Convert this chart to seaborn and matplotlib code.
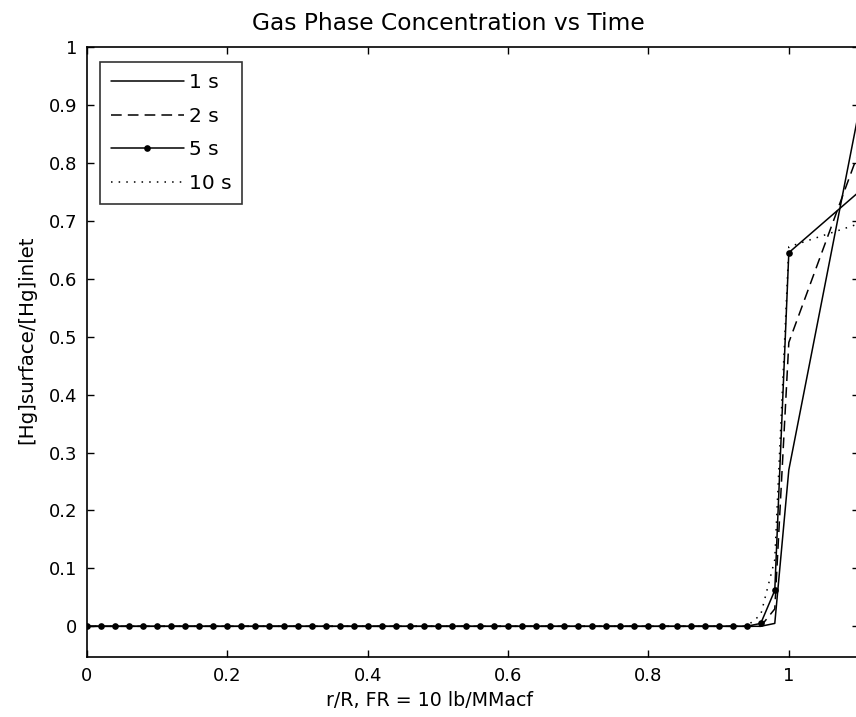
import numpy as np
import pandas as pd
import matplotlib
matplotlib.use("Agg")
import matplotlib.pyplot as plt
import seaborn as sns

# ---- data ----
r_grid = [round(0.02 * i, 2) for i in range(50)] + [1.0, 1.1]   # r/R positions
zeros48 = [0.0] * 48
conc_1s = zeros48 + [0.0, 0.005, 0.27, 0.89]
conc_2s = zeros48 + [0.0, 0.03, 0.49, 0.82]
conc_5s = zeros48 + [0.005, 0.062, 0.645, 0.75]
conc_10s = zeros48 + [0.02, 0.115, 0.655, 0.695]
series_labels = ["1 s", "2 s", "5 s", "10 s"]
xtick_vals = [0, 0.2, 0.4, 0.6, 0.8, 1.0]
xtick_labels = ["0", "0.2", "0.4", "0.6", "0.8", "1"]
ytick_vals = [0, 0.1, 0.2, 0.3, 0.4, 0.5, 0.6, 0.7, 0.8, 0.9, 1.0]
ytick_labels = ["0", "0.1", "0.2", "0.3", "0.4", "0.5", "0.6", "0.7", "0.8", "0.9", "1"]

sns.set_style("ticks")
plt.rcParams['font.family'] = ['DejaVu Sans']
plt.rcParams['text.color'] = 'black'

W, H = 856, 717
fig = plt.figure(figsize=(W / 100, H / 100), dpi=100)
left, right, top, bottom = 87, 859, 47, 657
ax = fig.add_axes([left / W, (H - bottom) / H, (right - left) / W, (bottom - top) / H])

df = pd.DataFrame({"r": r_grid, "1 s": conc_1s, "2 s": conc_2s,
                   "5 s": conc_5s, "10 s": conc_10s})

lw = 1.1
sns.lineplot(data=df, x="r", y="1 s", ax=ax, color="black", lw=lw,
             linestyle="-", label="1 s")
sns.lineplot(data=df, x="r", y="2 s", ax=ax, color="black", lw=lw,
             linestyle=(0, (7, 4)), label="2 s")
sns.lineplot(data=df, x="r", y="5 s", ax=ax, color="black", lw=lw,
             linestyle="-", marker="o", markersize=4.8, markeredgewidth=0,
             label="5 s")
sns.lineplot(data=df, x="r", y="10 s", ax=ax, color="black", lw=lw,
             linestyle=(0, (1, 4)), label="10 s")

ax.set_xticks(xtick_vals)
ax.set_xticklabels(xtick_labels)
ax.set_yticks(ytick_vals)
ax.set_yticklabels(ytick_labels)
ax.set_xlim(0, 1.1)
ax.set_ylim(-0.053, 1.0)
ax.tick_params(direction="in", length=5, width=1, top=True, right=True,
               labelsize=13, colors="black", labelcolor="black", pad=7)
for s in ax.spines.values():
    s.set_visible(True)
    s.set_linewidth(1.2)
    s.set_color("black")

ax.set_xlabel("")
ax.set_ylabel("")
fig.text(430 / W, 1 - 700 / H, "r/R, FR = 10 lb/MMacf", ha="center", va="center",
         fontsize=13.7, color="black")
fig.text(27 / W, 1 - 340 / H, "[Hg]surface/[Hg]inlet", ha="center", va="center",
         rotation=90, fontsize=14.2, color="black")
fig.text(448 / W, 1 - 23 / H, "Gas Phase Concentration vs Time", ha="center",
         va="center", fontsize=16.8, color="black")

leg = ax.legend(loc="upper left", bbox_to_anchor=(100 / W, 1 - 62 / H),
                bbox_transform=fig.transFigure, fontsize=14.5, frameon=True,
                fancybox=False, edgecolor="black", handlelength=3.6,
                handletextpad=0.25, borderpad=0.55, labelspacing=0.72,
                borderaxespad=0)
leg.get_frame().set_linewidth(1.2)
for t in leg.get_texts():
    t.set_color("black")

fig.savefig("out.png", dpi=100)
